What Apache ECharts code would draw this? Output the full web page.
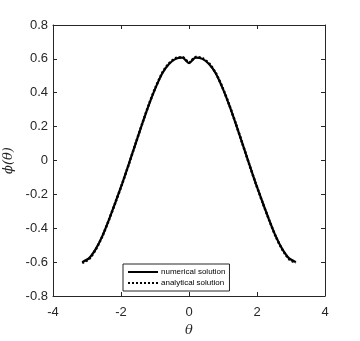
<!DOCTYPE html>
<html>
<head>
<meta charset="utf-8">
<script src="https://cdn.jsdelivr.net/npm/echarts@6/dist/echarts.min.js"></script>
<style>html,body{margin:0;padding:0;background:#fff}#c{width:360px;height:341px}</style>
</head>
<body>
<div id="c"></div>
<script>
var theta = [-3.142,-2.945,-2.749,-2.553,-2.356,-2.160,-1.963,-1.767,-1.571,-1.374,-1.178,-0.982,-0.785,-0.589,-0.393,-0.196,0,
  0.196,0.393,0.589,0.785,0.982,1.178,1.374,1.571,1.767,1.963,2.160,2.356,2.553,2.749,2.945,3.142];
var numerical = [-0.600,-0.578,-0.525,-0.448,-0.350,-0.245,-0.135,-0.019,0.100,0.218,0.330,0.430,0.515,0.570,0.600,0.607,0.575,
  0.607,0.600,0.570,0.515,0.430,0.330,0.218,0.100,-0.019,-0.135,-0.245,-0.350,-0.448,-0.525,-0.578,-0.600];
var analytical = [-0.605,-0.583,-0.528,-0.450,-0.351,-0.246,-0.136,-0.020,0.100,0.219,0.332,0.433,0.518,0.574,0.604,0.611,0.578,
  0.611,0.604,0.574,0.518,0.433,0.332,0.219,0.100,-0.020,-0.136,-0.246,-0.351,-0.450,-0.528,-0.583,-0.605];
var xTicks = [-4,-2,0,2,4];
var yTicks = [-0.8,-0.6,-0.4,-0.2,0,0.2,0.4,0.6,0.8];
var seriesNames = ['numerical solution','analytical solution'];

function pairs(xs, ys){ return xs.map(function(x,i){ return [x, ys[i]]; }); }
var ink = '#262626';
var chart = echarts.init(document.getElementById('c'));
var axisCommon = {
  axisLine:{show:true,onZero:false,lineStyle:{color:ink,width:1}},
  axisTick:{show:true,inside:true,length:4,lineStyle:{color:ink}},
  splitLine:{show:false}
};
chart.setOption({
  animation:false,
  textStyle:{fontFamily:'Liberation Sans'},
  grid:{left:53,right:35,top:25,bottom:45,containLabel:false,outerBoundsMode:'none'},
  legend:{
    data:seriesNames,
    orient:'vertical',
    left:123, top:264,
    padding:[4,4,4,4],
    itemGap:3,
    itemWidth:30,
    itemHeight:9,
    borderColor:ink,
    borderWidth:1,
    backgroundColor:'#fff',
    itemStyle:{opacity:0},
    textStyle:{fontSize:8,color:'#000',fontFamily:'Liberation Sans',padding:[0,0,0,-2]}
  },
  xAxis:[
    Object.assign({type:'value',min:-4,max:4,interval:2,position:'bottom',
      name:'θ',nameLocation:'middle',nameGap:26,
      nameTextStyle:{fontFamily:'DejaVu Serif',fontStyle:'italic',fontSize:13,color:ink},
      axisLabel:{color:ink,fontSize:13,margin:10,formatter:function(v){return xTicks.indexOf(v)>=0?String(v):'';}}
    },axisCommon),
    Object.assign({type:'value',min:-4,max:4,interval:2,position:'top',axisLabel:{show:false}},axisCommon)
  ],
  yAxis:[
    Object.assign({type:'value',min:-0.8,max:0.8,interval:0.2,position:'left',
      name:'ϕ(θ)',nameLocation:'middle',nameGap:33,nameRotate:90,
      nameTextStyle:{fontFamily:'DejaVu Serif',fontStyle:'italic',fontSize:13,color:ink},
      axisLabel:{color:ink,fontSize:13,margin:5,formatter:function(v){
        var r=Math.round(v*10)/10; return r===0?'0':String(r);}}
    },axisCommon),
    Object.assign({type:'value',min:-0.8,max:0.8,interval:0.2,position:'right',axisLabel:{show:false}},axisCommon)
  ],
  series:[
    {name:seriesNames[0],type:'line',data:pairs(theta,numerical),symbol:'none',smooth:0.2,
      lineStyle:{color:'#000',width:2.2}, itemStyle:{color:'#000'}},
    {name:seriesNames[1],type:'line',data:pairs(theta,analytical),symbol:'none',smooth:0.2,
      lineStyle:{color:'#000',width:2.5,type:[2,2],cap:'butt'}, itemStyle:{color:'#000'}}
  ]
});
</script>
</body>
</html>
